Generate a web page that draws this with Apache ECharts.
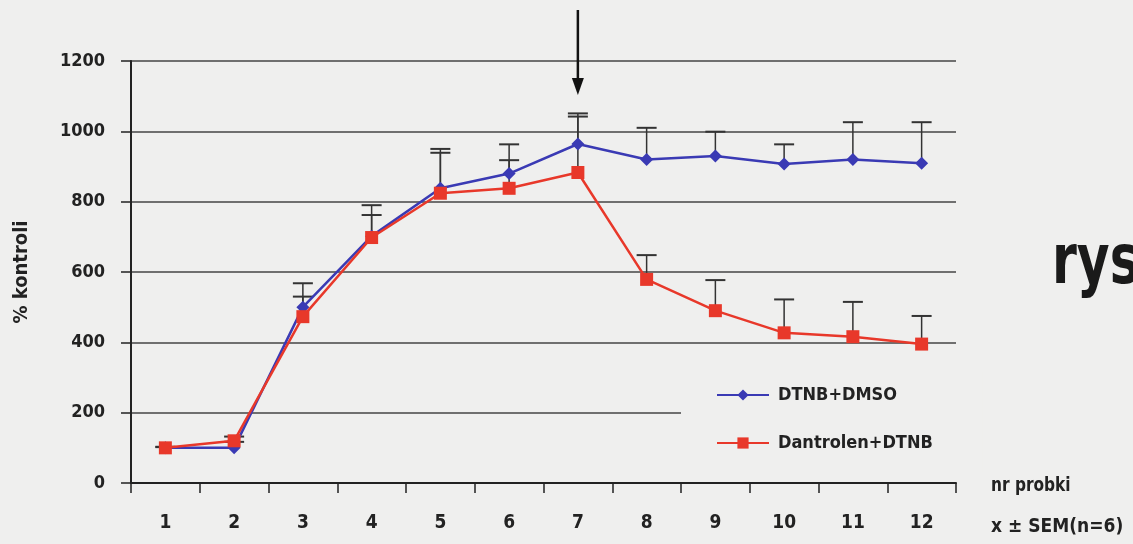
<!DOCTYPE html>
<html>
<head>
<meta charset="utf-8">
<script src="https://cdn.jsdelivr.net/npm/echarts@6/dist/echarts.min.js"></script>
<style>
html,body{margin:0;padding:0;background:#efefee;}
#chart{width:1133px;height:544px;}
</style>
</head>
<body>
<div id="chart"></div>
<script>
const categories = ['1','2','3','4','5','6','7','8','9','10','11','12'];
const yTicks = [0, 200, 400, 600, 800, 1000, 1200];
const seriesNames = ['DTNB+DMSO', 'Dantrolen+DTNB'];
const dtnbDmso      = [100, 100, 500, 702, 838, 880, 964, 920, 930, 907, 920, 909];
const dtnbDmsoUpper = [103, 117, 568, 790, 950, 963, 1051, 1010, 999, 963, 1026, 1026];
const dantrolen      = [100, 120, 473, 698, 824, 838, 883, 579, 490, 427, 416, 395];
const dantrolenUpper = [102, 132, 530, 762, 939, 918, 1042, 648, 577, 522, 515, 475];
const arrowCategory = 6;
const arrowFrom = 1345;
const arrowTo = 1103;
const yTitle = '% kontroli';
const sideTexts = ['rys.', 'nr probki', 'x \u00B1 SEM(n=6)'];

const FONT = "'DejaVu Sans Condensed', 'Liberation Sans Narrow', sans-serif";
const BLUE = '#3a3ab4';
const RED = '#e8382a';
const INK = '#222';

function errData(mean, upper) {
  return mean.map((m, i) => [i, m, upper[i]]);
}
function renderErr(params, api) {
  const x = api.value(0);
  const p0 = api.coord([x, api.value(1)]);
  const p1 = api.coord([x, api.value(2)]);
  const hw = 10;
  return {
    type: 'group',
    children: [
      {type: 'line', shape: {x1: p0[0], y1: p0[1], x2: p1[0], y2: p1[1]}, style: {stroke: '#333', lineWidth: 1.5}},
      {type: 'line', shape: {x1: p1[0] - hw, y1: p1[1], x2: p1[0] + hw, y2: p1[1]}, style: {stroke: '#333', lineWidth: 2}}
    ]
  };
}

const chart = echarts.init(document.getElementById('chart'));
chart.setOption({
  backgroundColor: '#efefee',
  animation: false,
  textStyle: {fontFamily: FONT},
  grid: {left: 131, right: 177, top: 61, bottom: 61, containLabel: false, outerBoundsMode: 'none'},
  xAxis: {
    type: 'category',
    data: categories,
    boundaryGap: true,
    axisLine: {lineStyle: {color: INK, width: 2}},
    axisTick: {show: true, length: 10, lineStyle: {color: INK, width: 1.5}},
    axisLabel: {color: INK, fontFamily: FONT, fontSize: 19, fontWeight: 'bold', margin: 31},
    splitLine: {show: false}
  },
  yAxis: {
    type: 'value',
    min: yTicks[0],
    max: yTicks[yTicks.length - 1],
    interval: yTicks[1] - yTicks[0],
    name: yTitle,
    nameLocation: 'middle',
    nameRotate: 90,
    nameGap: 99,
    nameTextStyle: {color: INK, fontFamily: FONT, fontSize: 20, fontWeight: 'bold'},
    axisLine: {show: true, lineStyle: {color: INK, width: 2}},
    axisTick: {show: true, length: 10, lineStyle: {color: INK, width: 1.5}},
    axisLabel: {color: INK, fontFamily: FONT, fontSize: 18, fontWeight: 'bold', margin: 26, padding: [0, 0, 10, 0],
      formatter: function (v) { return String(v); }},
    splitLine: {show: true, lineStyle: {color: '#444', width: 1.5}}
  },
  legend: {
    orient: 'vertical',
    left: 681,
    top: 372,
    padding: [14, 50, 20, 35],
    backgroundColor: '#efefee',
    itemWidth: 52,
    itemHeight: 14,
    itemGap: 30,
    textStyle: {color: INK, fontFamily: FONT, fontSize: 18, fontWeight: 'bold', padding: [0, 0, 0, 4]},
    data: seriesNames
  },
  series: [
    {
      type: 'custom', name: 'errBlue', renderItem: renderErr, data: errData(dtnbDmso, dtnbDmsoUpper), z: 1,
      encode: {x: 0, y: [1, 2]}
    },
    {
      type: 'custom', name: 'errRed', renderItem: renderErr, data: errData(dantrolen, dantrolenUpper), z: 1,
      encode: {x: 0, y: [1, 2]}
    },
    {
      name: seriesNames[0], type: 'line', data: dtnbDmso, z: 3,
      symbol: 'diamond', symbolSize: 13,
      lineStyle: {color: BLUE, width: 2.5}, itemStyle: {color: BLUE}
    },
    {
      name: seriesNames[1], type: 'line', data: dantrolen, z: 4,
      symbol: 'rect', symbolSize: 13,
      lineStyle: {color: RED, width: 2.5}, itemStyle: {color: RED}
    },
    {
      type: 'custom', name: 'arrow', clip: false, z: 5,
      data: [[arrowCategory, arrowFrom, arrowTo]],
      renderItem: function (params, api) {
        const x = api.value(0);
        const p0 = api.coord([x, api.value(1)]);
        const p1 = api.coord([x, api.value(2)]);
        const hl = 17, hw = 6;
        return {
          type: 'group',
          children: [
            {type: 'line', shape: {x1: p0[0], y1: p0[1], x2: p1[0], y2: p1[1] - hl + 2}, style: {stroke: '#111', lineWidth: 2.5}},
            {type: 'polygon', shape: {points: [[p1[0] - hw, p1[1] - hl], [p1[0] + hw, p1[1] - hl], [p1[0], p1[1]]]}, style: {fill: '#111'}}
          ]
        };
      }
    }
  ],
  graphic: [
    {type: 'text', x: 1052, y: 230, scaleX: 0.8, style: {text: sideTexts[0], font: "bold 70px " + FONT, fill: '#1a1a1a'}},
    {type: 'text', x: 991, y: 477, scaleX: 0.9, style: {text: sideTexts[1], font: "bold 19px " + FONT, fill: INK}},
    {type: 'text', x: 991, y: 518, scaleX: 1.0, style: {text: sideTexts[2], font: "bold 19px " + FONT, fill: INK}}
  ]
});
</script>
</body>
</html>
